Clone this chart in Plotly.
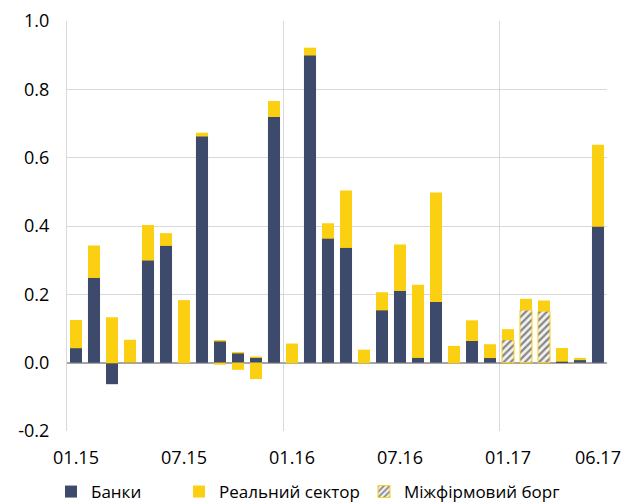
import plotly.graph_objects as go

months = ["01.15","02.15","03.15","04.15","05.15","06.15","07.15","08.15","09.15","10.15","11.15","12.15",
          "01.16","02.16","03.16","04.16","05.16","06.16","07.16","08.16","09.16","10.16","11.16","12.16",
          "01.17","02.17","03.17","04.17","05.17","06.17"]
banks = [0.044, 0.250, -0.063, 0.002, 0.301, 0.344, 0.0, 0.664, 0.064, 0.029, 0.016, 0.721,
         0.0, 0.901, 0.365, 0.338, 0.0, 0.155, 0.212, 0.016, 0.179, 0.0, 0.065, 0.015,
         0.0, 0.0, 0.0, 0.005, 0.009, 0.400]
real_sector = [0.081, 0.093, 0.133, 0.065, 0.102, 0.035, 0.183, 0.009, -0.006, -0.021, -0.048, 0.045,
               0.056, 0.021, 0.043, 0.166, 0.038, 0.051, 0.134, 0.212, 0.319, 0.049, 0.059, 0.039,
               0.031, 0.033, 0.031, 0.038, 0.005, 0.238]
interfirm = [0]*24 + [0.067, 0.154, 0.151, 0, 0, 0]
tick_labels = ["01.15", "07.15", "01.16", "07.16", "01.17", "06.17"]
tick_idx = [months.index(t) for t in tick_labels]
x = list(range(len(months)))

NAVY = "#3D4A6B"
YELLOW = "#FCD012"
FONT = "Open Sans"
W, H = 626, 502

fig = go.Figure()
fig.add_trace(go.Bar(x=x, y=banks, name="Банки", marker=dict(color=NAVY, line=dict(width=0)),
                     legend="legend"))
fig.add_trace(go.Bar(x=x, y=interfirm, name="Міжфірмовий борг",
                     marker=dict(color="#F2F2F2", line=dict(color=YELLOW, width=1),
                                 pattern=dict(shape="/", fgcolor="#1A1A1A", bgcolor="#F2F2F2",
                                              size=5, solidity=0.45)),
                     legend="legend3"))
fig.add_trace(go.Bar(x=x, y=real_sector, name="Реальний сектор", marker=dict(color=YELLOW, line=dict(width=0)),
                     legend="legend2"))

def leg(px):
    return dict(orientation="h", xref="container", yref="container",
                x=px / W, xanchor="left", y=10 / H, yanchor="middle",
                font=dict(size=17, family=FONT, color="#000000"), bgcolor="rgba(0,0,0,0)")

fig.update_layout(
    width=W, height=H,
    barmode="relative", bargap=0.33,
    plot_bgcolor="white", paper_bgcolor="white",
    margin=dict(l=67, r=19, t=21, b=71, autoexpand=False),
    font=dict(family=FONT, size=18, color="#000000"),
    showlegend=True,
    legend=leg(51), legend2=leg(179), legend3=leg(364),
    xaxis=dict(range=[-0.5, len(months) - 0.5], tickmode="array", tickvals=tick_idx,
               ticktext=tick_labels, showgrid=False, zeroline=False, ticks="",
               ticklabelstandoff=14, automargin=False,
               minor=dict(tickmode="array", tickvals=[11.5, 23.5], showgrid=True,
                          gridcolor="#D9D9D9", gridwidth=1, ticks=""),
               showline=False),
    yaxis=dict(range=[-0.2, 1.0], tickvals=[-0.2, 0, 0.2, 0.4, 0.6, 0.8, 1.0],
               ticktext=["-0.2", "0.0", "0.2", "0.4", "0.6", "0.8", "1.0"],
               showgrid=True, gridcolor="#D9D9D9", gridwidth=1,
               zeroline=True, zerolinecolor="#A6A6A6", zerolinewidth=1.5,
               showline=True, linecolor="#D9D9D9", linewidth=1, ticks="",
               ticklabelstandoff=13, automargin=False),
)
fig.write_html("out.html", config={"displayModeBar": False},
               post_script="document.body.style.margin='0';document.body.style.overflow='hidden';")
